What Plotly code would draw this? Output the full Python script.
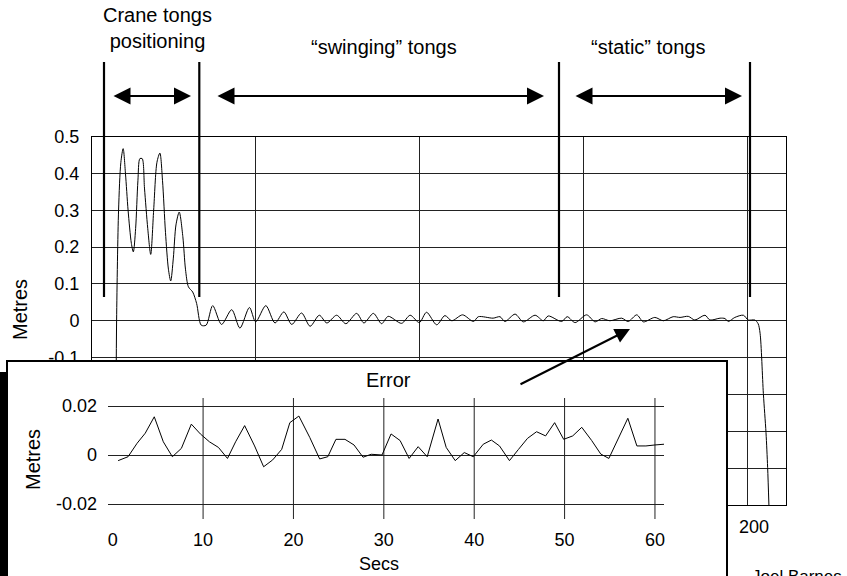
import plotly.graph_objects as go

W, H = 847, 576

# ---------------- data ----------------
main_t = [7.2, 7.5, 8.1, 8.8, 9.5, 10.2, 11.0, 12.0, 12.6, 13.3, 14.0, 14.6, 15.3, 16.0, 17.0, 17.9,
          18.8, 19.8, 20.7, 21.5, 22.4, 23.3, 24.0, 24.8, 25.6, 26.6, 27.7, 28.5, 29.4, 30.7, 31.9,
          33.3, 34.8, 36.8, 39.5, 42.6, 45.1, 48.0, 49.9, 53.0, 55.8, 58.5, 60.9, 63.9, 66.5, 69.3,
          71.6, 74.6, 77.4, 80.7, 82.9, 85.8, 88.3, 90.3, 94.4, 97.0, 99.8, 102.0, 105.1, 107.6,
          109.7, 113.0, 116.3, 117.8, 122.3, 124.4, 125.9, 129.0, 131.5, 135.1, 137.6, 139.1,
          143.2, 144.9, 147.3, 150.8, 153.4, 155.4, 157.9, 161.5, 163.5, 166.1, 168.1, 171.6,
          174.2, 177.2, 179.3, 181.8, 183.8, 186.9, 188.4, 191.5, 193.0, 194.0, 196.0, 198.6,
          200.1, 202.1, 203.1, 203.7, 204.7, 205.5, 206.0, 206.4]
main_v = [-0.5, 0.0, 0.3, 0.43, 0.467, 0.40, 0.30, 0.21, 0.187, 0.25, 0.38, 0.44, 0.44, 0.36, 0.25, 0.18,
          0.30, 0.43, 0.455, 0.38, 0.24, 0.14, 0.108, 0.17, 0.26, 0.295, 0.228, 0.14, 0.092, 0.078, 0.047,
          -0.012, -0.012, 0.041, -0.010, 0.030, -0.020, 0.036, -0.003, 0.041, -0.006, 0.024, -0.010, 0.021,
          -0.015, 0.015, -0.006, 0.015, -0.008, 0.020, -0.006, 0.020, -0.008, 0.012, -0.007, 0.015, -0.005,
          0.023, -0.011, 0.014, 0.0, 0.016, -0.002, 0.011, 0.007, 0.011, -0.002, 0.018, -0.003, 0.015,
          0.0, 0.013, -0.002, 0.011, -0.005, 0.016, -0.003, 0.006, 0.0, 0.007, -0.002, 0.016, -0.003,
          0.009, 0.0, 0.011, 0.009, 0.012, 0.002, 0.015, 0.002, 0.007, 0.006, -0.002, 0.009, 0.015,
          0.002, 0.002, -0.008, -0.034, -0.198, -0.303, -0.398, -0.503]

err_t = [0.6, 1.7, 2.7, 3.6, 4.6, 5.6, 6.6, 7.6, 8.7, 9.7, 10.7, 11.7, 12.7, 13.6, 14.6, 15.7, 16.7,
         17.7, 18.7, 19.6, 20.6, 21.8, 22.9, 23.8, 24.7, 25.7, 26.7, 27.7, 28.6, 29.8, 30.8, 31.8,
         32.8, 33.8, 34.8, 36.0, 36.9, 37.9, 38.9, 39.9, 41.0, 41.9, 42.8, 43.9, 44.9, 45.9, 46.9,
         47.9, 48.9, 49.9, 50.9, 51.9, 53.0, 54.0, 54.9, 55.9, 57.0, 58.0, 59.0, 60.0, 61.0]
err_v = [-0.0023, -0.0007, 0.0048, 0.0089, 0.0156, 0.0054, -0.0007, 0.0027, 0.0126, 0.0086, 0.0054,
         0.0031, -0.0014, 0.0054, 0.0120, 0.0037, -0.0048, -0.0020, 0.0023, 0.0132, 0.0159, 0.0072,
         -0.0016, -0.0007, 0.0064, 0.0064, 0.0041, -0.0009, 0.0003, 0.0, 0.0086, 0.0059, -0.0014,
         0.0034, -0.0007, 0.0147, 0.0031, -0.0023, 0.0010, -0.0007, 0.0044, 0.0061, 0.0037, -0.0023,
         0.0023, 0.0068, 0.0095, 0.0078, 0.0132, 0.0064, 0.0078, 0.0113, 0.0059, 0.0004, -0.0014,
         0.0064, 0.0150, 0.0037, 0.0037, 0.0041, 0.0044]

main_ytick_vals = [-0.5, -0.4, -0.3, -0.2, -0.1, 0, 0.1, 0.2, 0.3, 0.4, 0.5]
main_ytick_text = ["", "", "", "", "-0.1", "0", "0.1", "0.2", "0.3", "0.4", "0.5"]
main_xtick_vals = [0, 50, 100, 150, 200]
main_xtick_text = ["", "", "", "", "200"]
err_xtick_vals = [0, 10, 20, 30, 40, 50, 60]
err_xgrid_vals = [10, 20, 30, 40, 50, 60]
err_ytick_vals = [-0.02, 0, 0.02]
err_ytick_text = ["-0.02", "0", "0.02"]

FONT = "Liberation Sans, Arial, sans-serif"


def px(x):
    return x / W


def py(y):
    return 1 - y / H


fig = go.Figure()

# main trace
fig.add_trace(go.Scatter(x=main_t, y=main_v, mode="lines", xaxis="x", yaxis="y",
                         line=dict(color="black", width=1, shape="spline", smoothing=0.8),
                         hoverinfo="skip", showlegend=False))

# inset box (empty subplot used as white panel)
fig.add_trace(go.Scatter(x=[], y=[], xaxis="x2", yaxis="y2", showlegend=False))

# inset range
ex_range = [-0.52, 61.0]
ey_range = [-0.02612, 0.02327]

# inset vertical grid lines built from tick values
gx, gy = [], []
for v in err_xgrid_vals:
    gx += [v, v, None]
    gy += [ey_range[0], ey_range[1], None]
fig.add_trace(go.Scatter(x=gx, y=gy, mode="lines", xaxis="x3", yaxis="y3",
                         line=dict(color="#222", width=1), hoverinfo="skip", showlegend=False))
fig.add_trace(go.Scatter(x=err_t, y=err_v, mode="lines", xaxis="x3", yaxis="y3",
                         line=dict(color="black", width=1), hoverinfo="skip", showlegend=False))

axis_common = dict(zeroline=False, fixedrange=True, automargin=False)

fig.update_layout(
    width=W, height=H,
    margin=dict(l=0, r=0, t=0, b=0, pad=0),
    paper_bgcolor="white", plot_bgcolor="white",
    font=dict(family=FONT, color="black", size=17),
    showlegend=False,
    xaxis=dict(domain=[px(92), px(786)], range=[0, 211.6], tickvals=main_xtick_vals,
               ticktext=main_xtick_text, showgrid=True, gridcolor="#222", gridwidth=1,
               showline=True, mirror=True, linecolor="black", linewidth=1, ticks="",
               ticklabelstandoff=5, ticklabelshift=6, tickfont=dict(size=18), anchor="y",
               **axis_common),
    yaxis=dict(domain=[py(505), py(136.5)], range=[-0.5, 0.5], tickvals=main_ytick_vals,
               ticktext=main_ytick_text, showgrid=True, gridcolor="#222", gridwidth=1,
               showline=True, mirror=True, linecolor="black", linewidth=1, ticks="",
               ticklabelstandoff=8, tickfont=dict(size=18), anchor="x", **axis_common),
    xaxis2=dict(domain=[px(7.5), px(726)], range=[0, 1], showgrid=False, showticklabels=False,
                showline=True, side="top", linecolor="black", linewidth=1.5, ticks="",
                anchor="y2", **axis_common),
    yaxis2=dict(domain=[0, py(362)], range=[0, 1], showgrid=False, showticklabels=False,
                showline=True, mirror=True, linecolor="black", linewidth=1.5, ticks="",
                anchor="x2", **axis_common),
    xaxis3=dict(domain=[px(108), px(664)], range=ex_range, tickvals=err_xtick_vals,
                showgrid=False, showline=False, ticks="", ticklabelstandoff=8,
                tickfont=dict(size=18), anchor="y3", **axis_common),
    yaxis3=dict(domain=[py(519), py(398)], range=ey_range, tickvals=err_ytick_vals,
                ticktext=err_ytick_text, showgrid=True, gridcolor="#222", gridwidth=1,
                showline=False, ticks="", ticklabelstandoff=10, tickfont=dict(size=18),
                anchor="x3", **axis_common),
)

ann = []


def text(x, y, s, size=20, angle=0, xanchor="center", yanchor="middle"):
    ann.append(dict(x=px(x), y=py(y), xref="paper", yref="paper", text=s, showarrow=False,
                    font=dict(size=size, family=FONT, color="black"), textangle=angle,
                    xanchor=xanchor, yanchor=yanchor))


text(20, 310, "Metres", 20, -90)
text(33, 460, "Metres", 20, -90)
text(388, 380, "Error", 20)
text(379, 564, "Secs", 18)
text(157, 28.5, "Crane tongs<br>positioning", 20)
text(384, 47, "\u201cswinging\u201d tongs", 20)
text(648, 47, "\u201cstatic\u201d tongs", 20)
text(750, 565, "Joel Barnes", 17, xanchor="left", yanchor="top")


def arrow(x1, x2, y, both=True):
    ann.append(dict(x=px(x2), y=py(y), xref="paper", yref="paper", text="", showarrow=True,
                    ax=x1 - x2, ay=0, axref="pixel", ayref="pixel",
                    arrowhead=2, arrowsize=1.7, arrowwidth=2, arrowcolor="black",
                    startarrowhead=2, startarrowsize=1.7,
                    arrowside="end+start" if both else "end", standoff=0, startstandoff=0))


arrow(112, 191, 96)
arrow(216, 544, 96)
arrow(574, 742, 96)

# arrow pointing from inset to the steady region
ann.append(dict(x=px(630), y=py(329), xref="paper", yref="paper", text="", showarrow=True,
                ax=519 - 630, ay=385 - 329, arrowhead=2, arrowsize=1.5, arrowwidth=2,
                arrowcolor="black", standoff=0))

fig.update_layout(annotations=ann)

shapes = []
# phase divider lines
for x0, y1 in [(104, 297), (199.3, 297), (559, 297), (750, 297)]:
    shapes.append(dict(type="line", xref="paper", yref="paper", x0=px(x0), x1=px(x0),
                       y0=py(62), y1=py(y1), line=dict(color="black", width=2.2), layer="above"))
# dark scan edge to the left of inset
shapes.append(dict(type="rect", xref="paper", yref="paper", x0=0, x1=px(7.5), y0=0, y1=py(372),
                   fillcolor="black", line=dict(width=0), layer="above"))
fig.update_layout(shapes=shapes)

fig.write_html("out.html", config={"displayModeBar": False},
               post_script="document.body.style.margin='0';document.body.style.overflow='hidden';")
